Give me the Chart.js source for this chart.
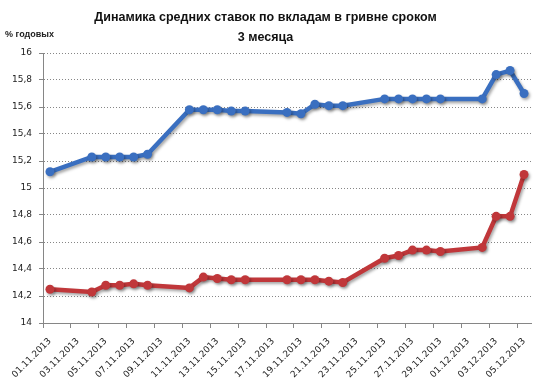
<!DOCTYPE html>
<html>
<head>
<meta charset="utf-8">
<script src="https://cdn.jsdelivr.net/npm/chart.js@4"></script>
<style>
html,body{margin:0;padding:0;background:#fff;}
#wrap{width:548px;height:390px;position:relative;}
</style>
</head>
<body>
<div id="wrap"><canvas id="c" width="548" height="390"></canvas></div>
<script>
const titleLines = ['Динамика средних ставок по вкладам в гривне сроком', '3 месяца'];
const yAxisLabel = '% годовых';
const dates = ['01.11.2013','02.11.2013','03.11.2013','04.11.2013','05.11.2013','06.11.2013','07.11.2013','08.11.2013','09.11.2013','10.11.2013',
  '11.11.2013','12.11.2013','13.11.2013','14.11.2013','15.11.2013','16.11.2013','17.11.2013','18.11.2013','19.11.2013','20.11.2013',
  '21.11.2013','22.11.2013','23.11.2013','24.11.2013','25.11.2013','26.11.2013','27.11.2013','28.11.2013','29.11.2013','30.11.2013',
  '01.12.2013','02.12.2013','03.12.2013','04.12.2013','05.12.2013'];
const blueValues = [15.12,null,null,15.23,15.23,15.23,15.23,15.25,null,null,
  15.58,15.58,15.58,15.57,15.57,null,null,15.56,15.55,15.62,
  15.61,15.61,null,null,15.66,15.66,15.66,15.66,15.66,null,
  null,15.66,15.84,15.87,15.70];
const redValues = [14.25,null,null,14.23,14.28,14.28,14.29,14.28,null,null,
  14.26,14.34,14.33,14.32,14.32,null,null,14.32,14.32,14.32,
  14.31,14.30,null,null,14.48,14.50,14.54,14.54,14.53,null,
  null,14.56,14.79,14.79,15.10];
const yMin = 14, yMax = 16, yStep = 0.2;

const blue = '#3a6fc0', red = '#c0373a';
const axisColor = '#868686';

const shadowPlugin = {
  id: 'shadow',
  beforeDatasetsDraw(chart) {
    const ctx = chart.ctx;
    ctx.save();
    ctx.shadowColor = 'rgba(0,0,0,0.35)';
    ctx.shadowBlur = 3;
    ctx.shadowOffsetX = 1.5;
    ctx.shadowOffsetY = 2;
  },
  afterDatasetsDraw(chart) { chart.ctx.restore(); }
};
const unitLabelPlugin = {
  id: 'unitLabel',
  afterDraw(chart) {
    const ctx = chart.ctx;
    ctx.save();
    ctx.font = 'bold 9px "Liberation Sans", Arial, sans-serif';
    ctx.fillStyle = '#222';
    ctx.textAlign = 'left';
    ctx.textBaseline = 'middle';
    ctx.fillText(yAxisLabel, 5, 35);
    ctx.restore();
  }
};

new Chart(document.getElementById('c'), {
  type: 'line',
  data: {
    labels: dates,
    datasets: [
      { data: blueValues, borderColor: blue, backgroundColor: blue, borderWidth: 4.5,
        pointRadius: 4.5, pointHoverRadius: 4.5, pointBorderWidth: 0, spanGaps: true, tension: 0 },
      { data: redValues, borderColor: red, backgroundColor: red, borderWidth: 4.5,
        pointRadius: 4.5, pointHoverRadius: 4.5, pointBorderWidth: 0, spanGaps: true, tension: 0 }
    ]
  },
  options: {
    responsive: false,
    animation: false,
    devicePixelRatio: 1,
    layout: { padding: { left: 0, right: 17, top: 0, bottom: 0 } },
    plugins: {
      legend: { display: false },
      tooltip: { enabled: false },
      title: {
        display: true,
        text: titleLines,
        color: '#111',
        font: { family: '"Liberation Sans", Arial, sans-serif', size: 12.5, weight: 'bold', lineHeight: 1.56 },
        padding: { top: 8, bottom: 6 }
      }
    },
    scales: {
      x: {
        type: 'category',
        offset: true,
        grid: {
          offset: true,
          drawOnChartArea: false,
          drawTicks: true,
          tickLength: 5,
          tickColor: (c) => (c.index % 2 === 0 ? axisColor : 'rgba(0,0,0,0)'),
          color: axisColor
        },
        border: { display: true, color: axisColor, width: 1 },
        ticks: {
          autoSkip: false,
          minRotation: 45,
          maxRotation: 45,
          padding: 8,
          color: '#222',
          font: { family: '"DejaVu Sans", Verdana, sans-serif', size: 9 },
          callback: function(v, i) { return i % 2 === 0 ? dates[i] : ''; }
        },
        afterFit(scale) { scale.height = 67; }
      },
      y: {
        min: yMin, max: yMax,
        grid: { color: axisColor, tickLength: 4, tickBorderDash: [], tickColor: axisColor },
        border: { display: true, color: axisColor, width: 1, dash: [1, 2] },
        ticks: {
          stepSize: yStep,
          padding: 7,
          color: '#222',
          font: { family: '"DejaVu Sans", Verdana, sans-serif', size: 9 },
          callback: function(v) { return (Math.round(v * 10) / 10).toString().replace('.', ','); }
        },
        afterFit(scale) { scale.width = 43; }
      }
    }
  },
  plugins: [shadowPlugin, unitLabelPlugin]
});
</script>
</body>
</html>
